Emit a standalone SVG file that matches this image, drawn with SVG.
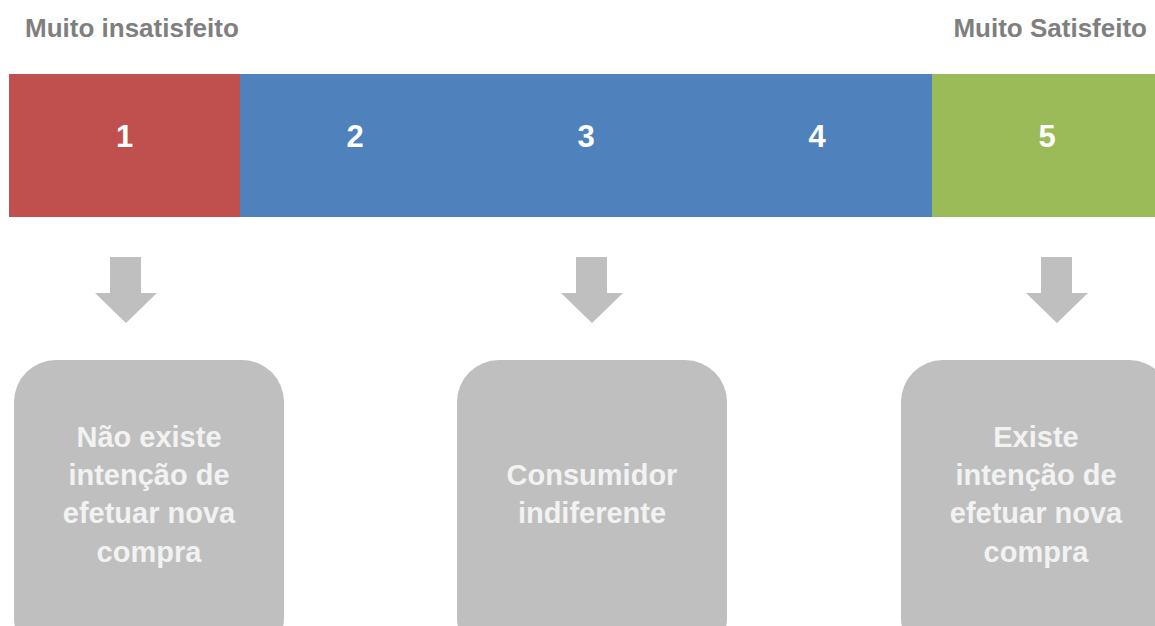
<svg xmlns="http://www.w3.org/2000/svg" width="1155" height="626" viewBox="0 0 1155 626">
  <style>
    .lbl { font-family: "Liberation Sans", Arial, sans-serif; font-weight: bold; font-size: 26px; fill: #7F7F7F; }
    .num { font-family: "Liberation Sans", Arial, sans-serif; font-weight: bold; font-size: 31px; fill: #FFFFFF; text-anchor: middle; }
    .box { fill: #BFBFBF; }
    .btxt { font-family: "Liberation Sans", Arial, sans-serif; font-weight: bold; font-size: 29px; fill: #F2F2F2; text-anchor: middle; }
    .arrow { fill: #BFBFBF; }
  </style>
  <rect width="1155" height="626" fill="#FFFFFF"/>

  <!-- scale end labels -->
  <g id="label-low"><text class="lbl" x="25" y="37">Muito insatisfeito</text></g>
  <g id="label-high"><text class="lbl" x="1147" y="37" text-anchor="end">Muito Satisfeito</text></g>

  <!-- rating scale bar -->
  <g id="scale-1">
    <rect x="9" y="74" width="231" height="143" fill="#C0504D"/>
    <text class="num" x="124.5" y="147">1</text>
  </g>
  <g id="scale-2-4">
    <rect x="240" y="74" width="692" height="143" fill="#4F81BD"/>
    <text class="num" x="355" y="147">2</text>
    <text class="num" x="586" y="147">3</text>
    <text class="num" x="817" y="147">4</text>
  </g>
  <g id="scale-5">
    <rect x="932" y="74" width="230" height="143" fill="#9BBB59"/>
    <text class="num" x="1047" y="147">5</text>
  </g>

  <!-- block arrows -->
  <g id="connectors">
    <path class="arrow" d="M110 257 H141 V293 H157 L126 323 L95 293 H110 Z"/>
    <path class="arrow" d="M576 257 H607 V293 H623 L592 323 L561 293 H576 Z"/>
    <path class="arrow" d="M1041 257 H1072 V293 H1088 L1057 323 L1026 293 H1041 Z"/>
  </g>

  <!-- outcome boxes -->
  <g id="outcome-low">
    <rect class="box" x="14" y="360" width="270" height="300" rx="42" ry="42"/>
    <text class="btxt" x="149" y="446.7">Não existe</text>
    <text class="btxt" x="149" y="485">intenção de</text>
    <text class="btxt" x="149" y="523.3">efetuar nova</text>
    <text class="btxt" x="149" y="561.7">compra</text>
  </g>
  <g id="outcome-mid">
    <rect class="box" x="457" y="360" width="270" height="300" rx="42" ry="42"/>
    <text class="btxt" x="592" y="485">Consumidor</text>
    <text class="btxt" x="592" y="523">indiferente</text>
  </g>
  <g id="outcome-high">
    <rect class="box" x="901" y="360" width="270" height="300" rx="42" ry="42"/>
    <text class="btxt" x="1036" y="446.7">Existe</text>
    <text class="btxt" x="1036" y="485">intenção de</text>
    <text class="btxt" x="1036" y="523.3">efetuar nova</text>
    <text class="btxt" x="1036" y="561.7">compra</text>
  </g>
</svg>
